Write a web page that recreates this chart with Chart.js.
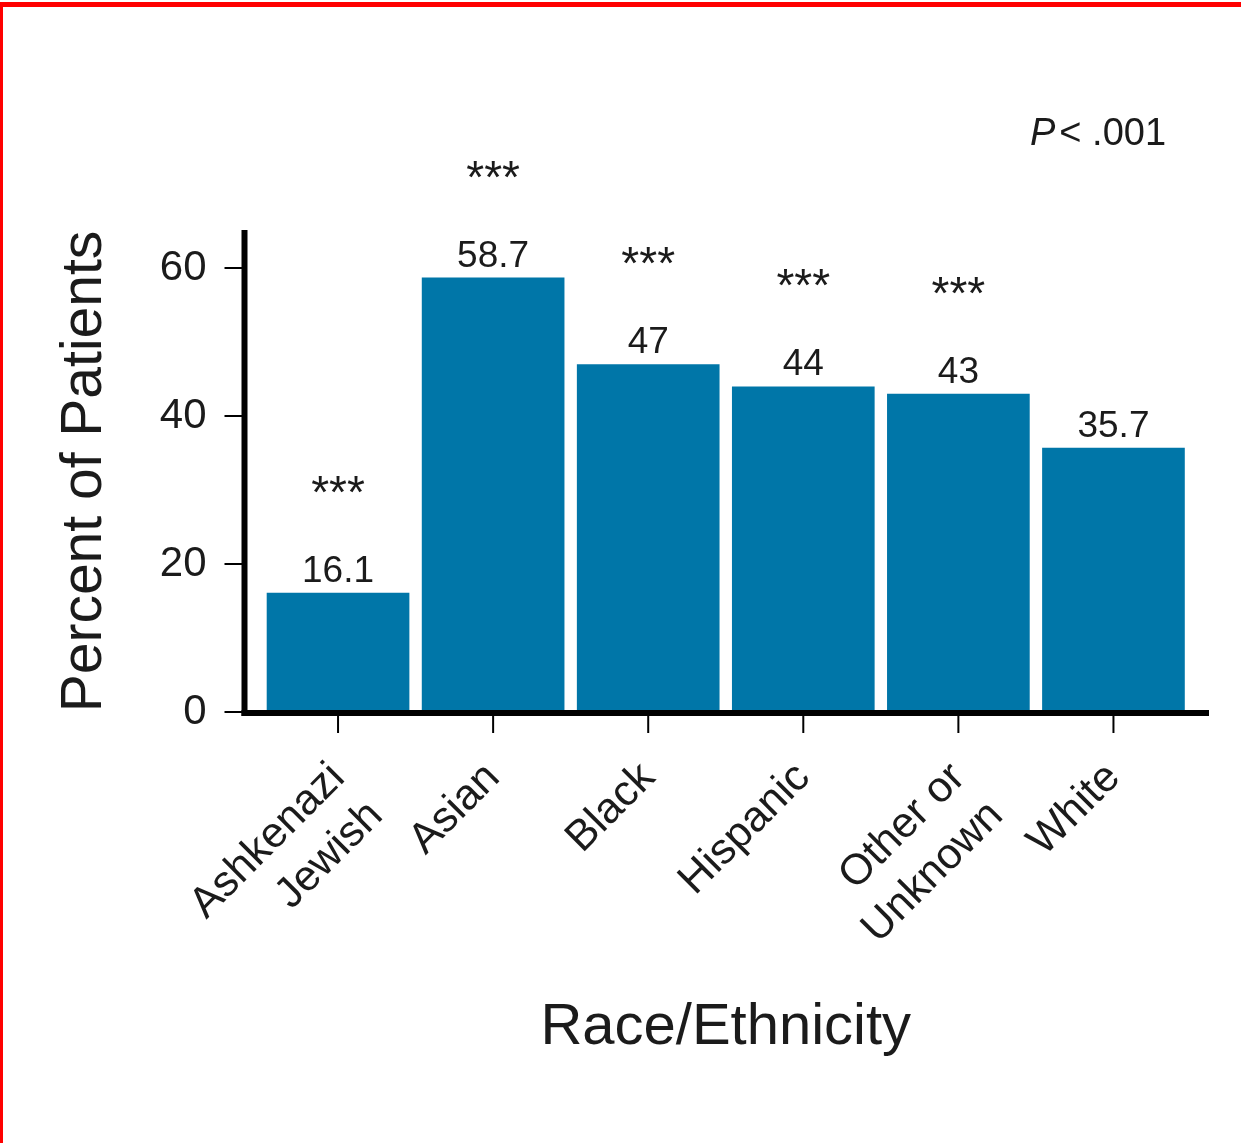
<!DOCTYPE html>
<html>
<head>
<meta charset="utf-8">
<title>Percent of Patients by Race/Ethnicity</title>
<script src="https://cdn.jsdelivr.net/npm/chart.js@4.4.0/dist/chart.umd.min.js"></script>
<style>
  html, body { margin: 0; padding: 0; background: #fff; }
  #wrap { position: relative; width: 1241px; height: 1143px; overflow: hidden; }
  #edge_top { position: absolute; left: 0; top: 2px; width: 1241px; height: 5px; background: #ff0000; }
  #edge_left { position: absolute; left: 0; top: 2px; width: 3px; height: 1141px; background: #ff0000; }
</style>
</head>
<body>
<div id="wrap">
  <canvas id="race_chart" width="1241" height="1143"></canvas>
  <div id="edge_top"></div>
  <div id="edge_left"></div>
</div>
<script>
// chart data
var categories = [["Ashkenazi", "Jewish"], "Asian", "Black", "Hispanic", ["Other or", "Unknown"], "White"];
var percents = [16.1, 58.7, 47, 44, 43, 35.7];
var value_labels = ["16.1", "58.7", "47", "44", "43", "35.7"];
var stars = ["***", "***", "***", "***", "***", ""];
var y_ticks = [0, 20, 40, 60];
var p_text = ["P", "< .001"];

var text_color = "#1b1b1b";
var bar_color = "#0076a8";
var font_family = "'Liberation Sans', Arial, Helvetica, sans-serif";

// axis lines, tick marks, bar labels and the P value
var extras = {
    id: "extras",
    afterDatasetsDraw: function(chart) {
        var ctx = chart.ctx;
        var area = chart.chartArea;
        var ys = chart.scales.y;
        var xs = chart.scales.x;
        var axis_x = area.left - 16;
        ctx.save();
        ctx.strokeStyle = "#000";
        ctx.lineCap = "butt";

        // y ticks
        ctx.lineWidth = 2;
        for (var i = 0; i < y_ticks.length; i++) {
            var ty = ys.getPixelForValue(y_ticks[i]);
            ctx.beginPath();
            ctx.moveTo(axis_x - 20, ty);
            ctx.lineTo(axis_x, ty);
            ctx.stroke();
        }
        // x ticks
        for (var j = 0; j < categories.length; j++) {
            var tx = xs.getPixelForValue(j);
            ctx.beginPath();
            ctx.moveTo(tx, area.bottom);
            ctx.lineTo(tx, area.bottom + 21);
            ctx.stroke();
        }
        // axis lines
        ctx.lineWidth = 6;
        ctx.beginPath();
        ctx.moveTo(axis_x, area.top - 1);
        ctx.lineTo(axis_x, area.bottom + 4);
        ctx.stroke();
        ctx.beginPath();
        ctx.moveTo(axis_x - 3, area.bottom + 1);
        ctx.lineTo(area.right + 18, area.bottom + 1);
        ctx.stroke();

        // value labels and stars
        var meta = chart.getDatasetMeta(0);
        ctx.fillStyle = text_color;
        ctx.textAlign = "center";
        ctx.textBaseline = "alphabetic";
        for (var k = 0; k < meta.data.length; k++) {
            var bar = meta.data[k];
            ctx.font = "37px " + font_family;
            ctx.fillText(value_labels[k], bar.x, bar.y - 11);
            if (stars[k] != "") {
                ctx.font = "46px " + font_family;
                ctx.fillText(stars[k], bar.x, bar.y - 85);
            }
        }

        // P value, top right
        ctx.textAlign = "left";
        ctx.font = "italic 38px " + font_family;
        var px = area.right - 161;
        var py = area.top - 86;
        ctx.fillText(p_text[0], px, py);
        var pw = ctx.measureText(p_text[0]).width;
        ctx.font = "38px " + font_family;
        ctx.fillText(p_text[1], px + pw + 4, py);
        ctx.restore();
    }
};

var ctx = document.getElementById("race_chart");
var race_chart = new Chart(ctx, {
    type: "bar",
    data: {
        labels: categories,
        datasets: [
            {
                label: "Percent of Patients",
                data: percents,
                backgroundColor: bar_color,
                borderWidth: 0,
                barPercentage: 0.92,
                categoryPercentage: 1.0,
            }
        ]
    },
    options: {
        responsive: false,
        animation: false,
        events: [],
        layout: {
            padding: { top: 231, right: 50, bottom: 0, left: 0 }
        },
        plugins: {
            legend: { display: false },
            tooltip: { enabled: false },
            title: { display: false },
        },
        scales: {
            x: {
                offset: true,
                grid: { display: false, drawTicks: false },
                border: { display: false },
                ticks: {
                    color: text_color,
                    font: { family: font_family, size: 43, lineHeight: 1.25 },
                    minRotation: 45,
                    maxRotation: 45,
                    padding: 40,
                    autoSkip: false,
                },
                title: {
                    display: true,
                    text: "Race/Ethnicity",
                    color: text_color,
                    font: { family: font_family, size: 58 },
                    padding: { top: 0, bottom: 80 },
                },
                afterFit: function(scale) { scale.height = 431; },
            },
            y: {
                min: 0,
                max: 65,
                grid: { display: false, drawTicks: false },
                border: { display: false },
                ticks: {
                    stepSize: 20,
                    includeBounds: false,
                    color: text_color,
                    font: { family: font_family, size: 42 },
                    padding: 54,
                },
                title: {
                    display: true,
                    text: "Percent of Patients",
                    color: text_color,
                    font: { family: font_family, size: 57 },
                    padding: { top: 51, bottom: 0 },
                },
                afterFit: function(scale) { scale.width = 260.5; },
            }
        }
    },
    plugins: [extras]
});
</script>
</body>
</html>
